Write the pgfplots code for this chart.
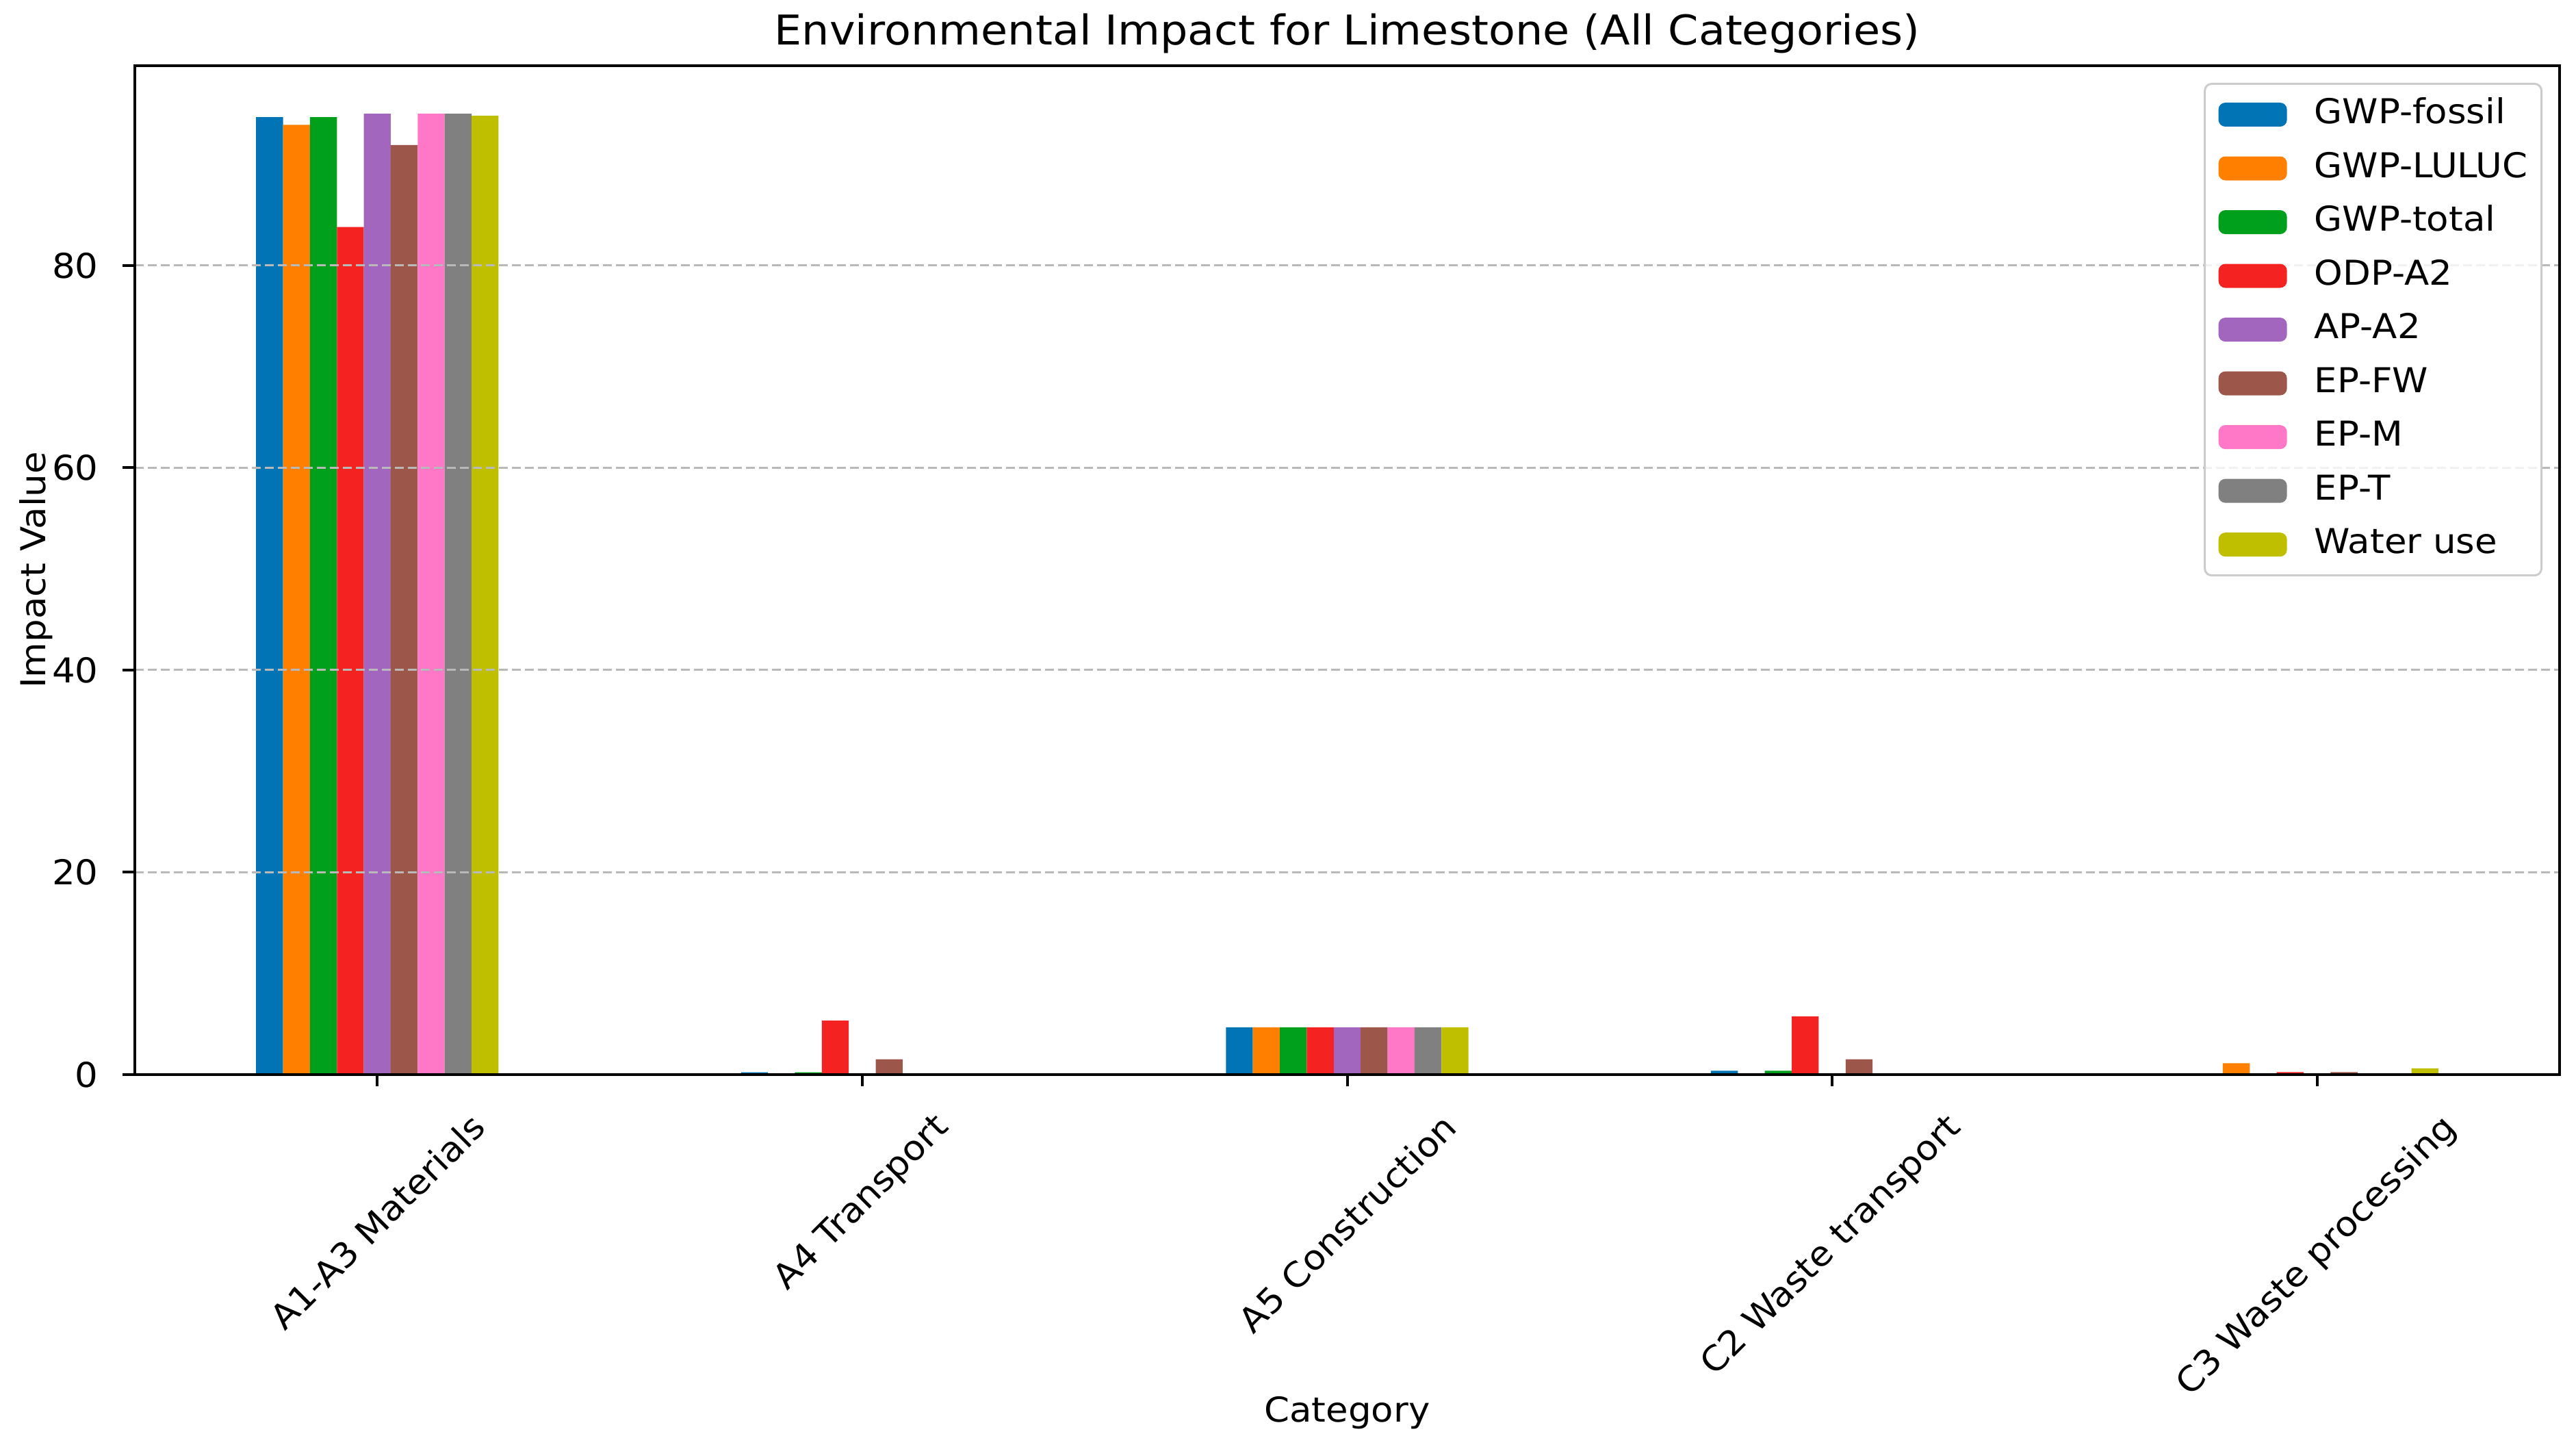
\documentclass[border=0pt]{standalone}
\usepackage{fontspec}
\setmainfont[FakeStretch=1.06]{DejaVu Sans}
\usepackage{graphicx}
\usepackage{pgfplots}
\usepackage{pgfplotstable}
\pgfplotsset{compat=1.18}

% colours
\definecolor{cblue}{HTML}{0174B5}
\definecolor{corange}{HTML}{FF8000}
\definecolor{cgreen}{HTML}{00A01C}
\definecolor{cred}{HTML}{F52222}
\definecolor{cpurple}{HTML}{A366BF}
\definecolor{cbrown}{HTML}{9C564A}
\definecolor{cpink}{HTML}{FF78C8}
\definecolor{cgray}{HTML}{808080}
\definecolor{colive}{HTML}{BFBF00}

% categories at 0..4
\pgfplotstableread{
x fossil luluc total odp  ap   epfw epm  ept  water
0 94.66  93.90 94.66 83.80 95.00 91.90 95.00 95.00 94.80
1 0.22   0     0.22  5.34  0     1.51  0     0     0
2 4.67   4.67  4.67  4.67  4.67  4.67  4.67  4.67  4.67
3 0.38   0     0.38  5.75  0     1.51  0     0     0
4 0      1.13  0     0.25  0     0.25  0     0     0.61
}\data

\begin{document}
\begin{tikzpicture}
\useasboundingbox (-1.3844cm,-3.8440cm) rectangle (25.0667cm,11.0326cm);
\begin{axis}[
    scale only axis,
    width=24.898cm, height=10.358cm,
    xmin=-0.5, xmax=4.5,
    ymin=0, ymax=99.75,
    axis on top,
    axis line style={line width=0.8pt},
    tick style={line width=0.8pt, black},
    major tick length=3.5pt,
    tick align=outside,
    xtick pos=bottom, ytick pos=left,
    xtick={0,1,2,3,4},
    xticklabels={
        \rotatebox{45}{A1-A3 Materials},
        \rotatebox{45}{A4 Transport},
        \rotatebox{45}{A5 Construction},
        \rotatebox{45}{C2 Waste transport},
        \rotatebox{45}{C3 Waste processing}},
    ytick={0,20,40,60,80},
    /pgf/number format/assume math mode=true,
    ticklabel style={font=\fontsize{10}{12}\selectfont},
    xticklabel style={anchor=north, inner sep=0pt, yshift=-7pt},
    yticklabel style={anchor=east, inner sep=0pt, xshift=-7pt},
    ymajorgrids,
    major grid style={gray!55, line width=0.6pt, dash pattern=on 2.6pt off 1.2pt},
    title={Environmental Impact for Limestone (All Categories)},
    title style={font=\fontsize{12}{14}\selectfont, at={(axis description cs:0.5,1)},
        anchor=south, inner sep=0pt, yshift=-2.6pt},
    xlabel={Category},
    xlabel style={font=\fontsize{10}{12}\selectfont, at={(axis description cs:0.5,-0.3351)}, anchor=center},
    ylabel={Impact Value},
    ylabel style={font=\fontsize{10}{12}\selectfont, at={(axis description cs:-0.0406,0.5)},
        rotate=0, anchor=center},
    legend cell align=left,
    legend style={at={(axis description cs:1,1)}, anchor=north east,
        xshift=-5pt, yshift=-5pt,
        draw=black!20, line width=0.6pt, rounded corners=2pt,
        fill=white, fill opacity=0.8, text opacity=1,
        inner xsep=4pt, inner ysep=4pt,
        row sep=5.7pt, column sep=8pt,
        font=\fontsize{10}{12}\selectfont,
        nodes={inner sep=0pt, text height=7.6pt, text depth=2.4pt}},
    bstyle/.style={ybar, bar width=0.055556, draw=none,
        legend image code/.code={\fill[##1, fill opacity=1] (0pt,-3.5pt) rectangle (20pt,3.5pt);}},
]
\addplot[bstyle, fill=cblue,   bar shift=-0.222222] table[x=x,y=fossil]{\data};
\addplot[bstyle, fill=corange, bar shift=-0.166667] table[x=x,y=luluc]{\data};
\addplot[bstyle, fill=cgreen,  bar shift=-0.111111] table[x=x,y=total]{\data};
\addplot[bstyle, fill=cred,    bar shift=-0.055556] table[x=x,y=odp]{\data};
\addplot[bstyle, fill=cpurple, bar shift=0]         table[x=x,y=ap]{\data};
\addplot[bstyle, fill=cbrown,  bar shift=0.055556]  table[x=x,y=epfw]{\data};
\addplot[bstyle, fill=cpink,   bar shift=0.111111]  table[x=x,y=epm]{\data};
\addplot[bstyle, fill=cgray,   bar shift=0.166667]  table[x=x,y=ept]{\data};
\addplot[bstyle, fill=colive,  bar shift=0.222222]  table[x=x,y=water]{\data};
\legend{GWP-fossil,GWP-LULUC,GWP-total,ODP-A2,AP-A2,EP-FW,EP-M,EP-T,Water use}
\end{axis}
\end{tikzpicture}
\end{document}
